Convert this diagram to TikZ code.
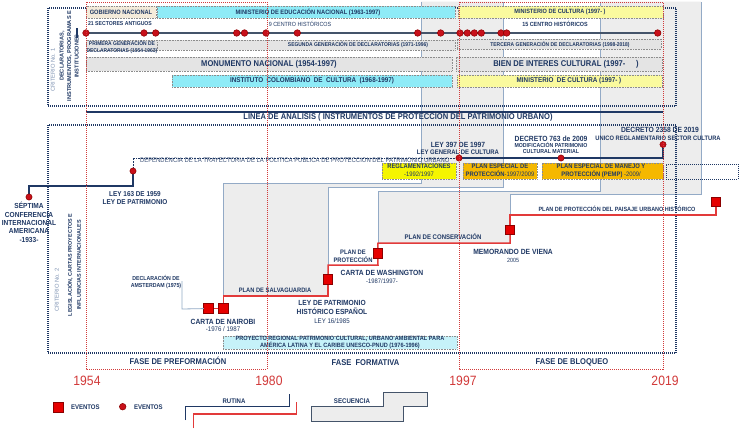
\documentclass[tikz,border=0pt]{standalone}
\usepackage{fontspec}
\setmainfont{Liberation Sans}
\usepackage{graphicx}
\definecolor{navy}{HTML}{1F3864}
\definecolor{stl}{HTML}{93AAC6}
\definecolor{gfill}{HTML}{EDEDED}
\definecolor{rroute}{HTML}{E23A3A}
\definecolor{sqred}{HTML}{E60000}
\definecolor{sqedge}{HTML}{8B0000}
\definecolor{dotred}{HTML}{C8101A}
\definecolor{cyanbox}{HTML}{8EEBF7}
\definecolor{cyanlt}{HTML}{C6F2F9}
\definecolor{ylw}{HTML}{FAFA9E}
\definecolor{ylwb}{HTML}{F5F500}
\definecolor{goldb}{HTML}{F5B800}
\definecolor{beige}{HTML}{F4EBDA}
\definecolor{gbox}{HTML}{E4E4E4}
\definecolor{bxedge}{HTML}{8C8C8C}
\definecolor{critgrey}{HTML}{7F93B3}
\definecolor{yrred}{HTML}{D23A3A}
\definecolor{tline}{HTML}{44546A}
\newcommand{\fs}[2]{\fontsize{#1}{#2}\selectfont}
\newcommand{\nx}[1]{\scalebox{0.9}[1]{#1}}
\newcommand{\nxl}[1]{\scalebox{0.9}[1]{\begin{tabular}{@{}c@{}}#1\end{tabular}}}
\newcommand{\bxn}[6]{\node[bx,fill=#6,minimum width={(#4-#2)*1pt},minimum height={(#5-#3)*1pt},anchor=north west] (#1) at (#2,#3) {};}
\tikzset{
  bx/.style={draw=bxedge,dash pattern=on 0.8pt off 0.8pt,line width=0.6pt},
  critbox/.style={draw=navy,dash pattern=on 1pt off 1pt,line width=1.1pt},
  reddot/.style={draw=yrred,dash pattern=on 1pt off 1pt,line width=0.9pt},
  stline/.style={draw=stl,line width=0.9pt},
  route/.style={draw=rroute,line width=1.5pt},
  tdot/.style={circle,fill=dotred,draw=sqedge,line width=0.5pt,minimum size=6.6pt},
  sq/.style={rectangle,fill=sqred,draw=sqedge,line width=0.7pt,minimum size=9.5pt},
  lb/.style={text=navy}
}
\begin{document}
\begin{tikzpicture}[x=1pt,y=-1pt,every node/.style={inner sep=0pt,outer sep=0pt}]
\useasboundingbox (0,0) rectangle (741,429);
\fill[white] (0,0) rectangle (741,429);

% grey secuencia areas
\fill[gfill] (223.5,296) -- (223.5,183) -- (421,183) -- (421,1.5) -- (503,1.5) -- (503,187) -- (328,187) -- (328,296) -- cycle;
\fill[gfill] (378,243) -- (378,191) -- (600,191) -- (600,1.5) -- (701,1.5) -- (701,194) -- (510,194) -- (510,243) -- cycle;

% route coordinates
\coordinate (r1) at (223.5,296);
\coordinate (r2) at (328,296);
\coordinate (r3) at (328,265);
\coordinate (r4) at (378,265);
\coordinate (r5) at (378,243);
\coordinate (r6) at (510,243);
\coordinate (r7) at (510,215);
\coordinate (r8) at (716,215);

% steel secuencia outlines
\draw[stline] (r1) -- (223.5,183) -- (421,183) -- (421,1.5);
\draw[stline] (r3) -- (328,187) -- (503,187) -- (503,1.5);
\draw[stline] (r5) -- (378,191) -- (600,191) -- (600,1.5);
\draw[stline] (r7) -- (510,194) -- (701,194) -- (701,1.5);

% criterion boxes
\draw[critbox] (48,8) rectangle (676,106);
\draw[critbox] (48,125) rectangle (676,353);

% ---------- top section ----------
\coordinate (tk1) at (77,28); \coordinate (tk2) at (77,38);
\draw[navy,line width=1.5pt] (tk1) -- (tk2);
\foreach \i/\x in {1/86,2/144,3/155.7,4/236.7,5/244.5,6/266,7/297.3,8/417.7,9/440.7,10/460,11/467.3,12/474.3,13/481.3,14/501,15/506.7,16/657.7}
  \coordinate (td\i) at (\x,33);
\draw[tline,line width=1.2pt] (td1) -- (td16);
\foreach \i in {1,...,16} \node[tdot] at (td\i) {};

\bxn{gob}{86}{6}{156}{18}{beige}
\bxn{med}{157}{6}{455}{18}{cyanbox}
\bxn{mcu1}{458}{6}{663}{18}{ylw}
\bxn{pgd}{86}{40}{157}{50}{gbox}
\bxn{sgd}{157}{40}{455}{50}{gbox}
\bxn{tgd}{457}{39}{661}{49}{gbox}
\bxn{mon}{86}{57}{452}{71}{gbox}
\bxn{bic}{456}{57}{662}{71}{gbox}
\bxn{icc}{172}{75}{452}{87}{cyanbox}
\bxn{mcu2}{457}{75}{662}{87}{ylw}

\node[lb,font=\fs{6.3}{7}\bfseries] at (121,12) {\nx{GOBIERNO NACIONAL}};
\node[lb,font=\fs{6.4}{7}\bfseries] at (308,12) {\nx{MINISTERIO DE EDUCACIÓN NACIONAL (1963-1997)}};
\node[lb,font=\fs{6.2}{7}\bfseries] at (560,12) {\nx{MINISTERIO DE CULTURA (1997- )}};
\node[lb,font=\fs{5.7}{7}\bfseries] at (120,24) {\nx{21 SECTORES ANTIGUOS}};
\node[lb,font=\fs{6}{7}] at (300,24) {\nx{9 CENTRO HISTÓRICOS}};
\node[lb,font=\fs{6}{7}\bfseries] at (555,24) {\nx{15 CENTRO HISTÓRICOS}};
\node[lb,font=\fs{5.5}{7}\bfseries] at (122,48) {\nxl{PRIMERA GENERACIÓN DE\\DECLARATORIAS (1954-1963)}};
\node[lb,font=\fs{5.5}{7}\bfseries] at (358,45) {\nx{SEGUNDA GENERACIÓN DE DECLARATORIAS (1971-1996)}};
\node[lb,font=\fs{5.5}{7}\bfseries] at (560,44.5) {\nx{TERCERA GENERACIÓN DE DECLARATORIAS (1998-2018)}};
\node[lb,font=\fs{8.4}{10}\bfseries] at (269,64) {\nx{MONUMENTO NACIONAL (1954-1997)}};
\node[lb,font=\fs{8.4}{10}\bfseries] at (566,64) {\nx{BIEN DE INTERES CULTURAL (1997-\hspace{12pt})}};
\node[lb,font=\fs{7}{8}\bfseries] at (312,81) {\nx{INSTITUTO\ \ COLOMBIANO\ \ DE\ \ CULTURA\ \ (1968-1997)}};
\node[lb,font=\fs{7}{8}\bfseries] at (569,81) {\nx{MINISTERIO\ \ DE CULTURA (1997- )}};

% criterion 1 texts
\node[text=critgrey,font=\fs{5.8}{7},rotate=90] at (53,70) {CRITERIO No. 1};
\node[lb,font=\fs{5.6}{7.5}\bfseries,rotate=90] at (69.5,56) {\begin{tabular}{@{}c@{}}DECLARATORIAS,\\INSTRUMENTOS, PROGRAMAS E\\INSTITUCIONES\end{tabular}};

% linea de analisis
\coordinate (la1) at (86,112); \coordinate (la2) at (663,112);
\draw[navy,line width=1.2pt] (la1) -- (la2);
\node[lb,font=\fs{8.4}{10}\bfseries] at (398,117.5) {\nx{LINEA DE ANALISIS ( INSTRUMENTOS DE PROTECCION DEL PATRIMONIO URBANO)}};

% criterion 2 texts
\node[text=critgrey,font=\fs{5.8}{7},rotate=90] at (57,290) {CRITERIO No. 2};
\node[lb,font=\fs{5.4}{9}\bfseries,rotate=90] at (74.5,265) {\begin{tabular}{@{}c@{}}LEGISLACIÓN, CARTAS PROYECTOS E\\INFLUENCIAS INTERNACIONALES\end{tabular}};

% plan boxes
\bxn{reg}{382}{163}{456}{179}{ylwb}
\bxn{pep}{463}{163}{537}{179}{goldb}
\bxn{pemp}{542}{163}{663}{179}{goldb}
\node[draw=navy,dash pattern=on 1pt off 1pt,line width=1pt,minimum width=72pt,minimum height=15pt,anchor=north west] (fut) at (666,164) {};
\node[lb,font=\fs{6.5}{7.2}] at (419,171) {\nxl{\bfseries REGLAMENTACIONES\\-1992/1997}};
\node[lb,font=\fs{6.5}{7.2}] at (500,171) {\nxl{\bfseries PLAN ESPECIAL DE\\{\bfseries PROTECCIÓN}-1997/2009}};
\node[lb,font=\fs{6.5}{7.5}] at (601,171) {\nxl{\bfseries PLAN ESPECIAL DE MANEJO Y\\{\bfseries PROTECCIÓN (PEMP)} -2009/}};

% ---------- policy trajectory ----------
\coordinate (sep) at (29,197);
\coordinate (l163) at (133,171);
\coordinate (l397) at (459,158);
\coordinate (d763) at (561,158);
\coordinate (d2358) at (663,144.5);
\coordinate (k1) at (29,186); \coordinate (k2) at (133,186);
\draw[navy,line width=1.5pt] (sep) -- (k1) -- (k2) -- (l163);
\node[anchor=west,text=navy!85,font=\fs{6.6}{7}] at (140,160.5) {\nx{DEPENDENCIA DE LA TRAYECTORIA DE LA POLITICA PUBLICA DE PROTECCION DEL PATRIMONIO URBANO}};
\draw[navy,dash pattern=on 0.8pt off 0.8pt,line width=0.9pt] (l163) |- (l397);
\draw[navy,line width=1.8pt] (l397) -| (d2358);
\foreach \n in {sep,l163,l397,d763,d2358} \node[tdot,minimum size=6.2pt] at (\n) {};

\node[lb,font=\fs{7.3}{8.3}\bfseries] at (29,223.5) {\nxl{SÉPTIMA\\CONFERENCIA\\INTERNACIONAL\\AMERICANA\\-1933-}};
\node[lb,font=\fs{7.1}{8}\bfseries] at (135,199) {\nxl{LEY 163 DE 1959\\LEY DE PATRIMONIO}};
\node[lb,font=\fs{7.5}{8}\bfseries] at (458,145) {\nx{LEY 397 DE 1997}};
\node[lb,font=\fs{6.6}{8}\bfseries] at (458,152.3) {\nx{LEY GENERAL DE CULTURA}};
\node[lb,font=\fs{7.5}{8}\bfseries] at (551,139) {\nx{DECRETO 763 de 2009}};
\node[lb,font=\fs{5.8}{6.3}\bfseries] at (551,149.2) {\nxl{MODIFICACIÓN PATRIMONIO\\CULTURAL MATERIAL}};
\node[lb,font=\fs{7.5}{8}\bfseries] at (660,130) {\nx{DECRETO 2358 DE 2019}};
\node[lb,font=\fs{6.4}{8}\bfseries] at (658,138) {\nx{UNICO REGLAMENTARIO SECTOR CULTURA}};

% ---------- route ----------
\node[sq] (n1) at (208.5,308.5) {};
\node[sq] (n2) at (223.5,308.5) {};
\node[sq] (pat) at (328,279.3) {};
\node[sq] (was) at (377.7,253.3) {};
\node[sq] (vie) at (510,230) {};
\node[sq] (pai) at (716,201.7) {};
\draw[route] (n1) -- (n2);
\draw[route] (n2) -- (r1) -- (r2) -- (pat);
\draw[route] (pat) -- (r3) -- (r4) -- (was);
\draw[route] (was) -- (r5) -- (r6) -- (vie);
\draw[route] (vie) -- (r7) -- (r8) -- (pai);
\foreach \x/\y in {208.5/308.5,223.5/308.5,328/279.3,377.7/253.3,510/230,716/201.7}
  \node[sq] at (\x,\y) {};

% amsterdam connector
\coordinate (am1) at (182,281); \coordinate (am2) at (182,309);
\draw[stl,line width=0.8pt] (am1) -- (am2) -- (n1);

% route labels
\node[lb,font=\fs{5.8}{7}\bfseries] at (156,282.5) {\nxl{DECLARACIÓN DE\\AMSTERDAM (1975)}};
\node[lb,font=\fs{7.5}{8}\bfseries] at (223,322) {\nx{CARTA DE NAIROBI}};
\node[lb,font=\fs{6.8}{8}] at (223,329.5) {\nx{-1976 / 1987}};
\node[lb,font=\fs{6.4}{8}\bfseries] at (275,290) {\nx{PLAN DE SALVAGUARDIA}};
\node[lb,font=\fs{7.4}{8.5}\bfseries] at (332,308.2) {\nxl{LEY DE PATRIMONIO\\HISTÓRICO ESPAÑOL}};
\node[lb,font=\fs{6.8}{8}] at (332,321) {\nx{LEY 16/1985}};
\node[lb,font=\fs{6.5}{7}\bfseries] at (353,256.7) {\nxl{PLAN DE\\PROTECCIÓN}};
\node[lb,font=\fs{7.5}{8}\bfseries] at (382,273) {\nx{CARTA DE WASHINGTON}};
\node[lb,font=\fs{6.5}{8}] at (382,281) {\nx{-1987/1997-}};
\node[lb,font=\fs{6.7}{8}\bfseries] at (443,237) {\nx{PLAN DE CONSERVACIÓN}};
\node[lb,font=\fs{7.5}{8}\bfseries] at (513,252) {\nx{MEMORANDO DE VIENA}};
\node[lb,font=\fs{6}{8}] at (513,260) {\nx{2005}};
\node[lb,font=\fs{6.1}{8}\bfseries] at (617,209) {\nx{PLAN DE PROTECCIÓN DEL PAISAJE URBANO HISTÓRICO}};

% proyecto regional
\bxn{proy}{223}{336}{457}{349}{cyanlt}
\node[lb,font=\fs{6.2}{6.6}\bfseries] at (340,342.5) {\nxl{PROYECTO REGIONAL PATRIMONIO CULTURAL, URBANO AMBIENTAL PARA\\AMÉRICA LATINA Y EL CARIBE UNESCO-PNUD (1976-1996)}};

% time frames (red dotted)
\draw[reddot] (86,2) rectangle (267,369);
\draw[reddot] (459,2) rectangle (663,369);

% phases
\node[lb,font=\fs{8.4}{10}\bfseries] at (178,361) {\nx{FASE DE PREFORMACIÓN}};
\node[lb,font=\fs{8.4}{10}\bfseries] at (365.5,362.5) {\nx{FASE\ \ FORMATIVA}};
\node[lb,font=\fs{8.4}{10}\bfseries] at (572,362) {\nx{FASE DE BLOQUEO}};

% years
\node[text=yrred,font=\fs{13.5}{15}] at (87,381) {\nx{1954}};
\node[text=yrred,font=\fs{13.5}{15}] at (269,381) {\nx{1980}};
\node[text=yrred,font=\fs{13.5}{15}] at (463,381) {\nx{1997}};
\node[text=yrred,font=\fs{13.5}{15}] at (665,381) {\nx{2019}};

% legend
\node[sq,minimum size=10pt] (lgsq) at (58,407.5) {};
\node[lb,font=\fs{6.7}{8}\bfseries,anchor=west] at (71,407.5) {\nx{EVENTOS}};
\node[tdot] (lgdot) at (122.7,406.7) {};
\node[lb,font=\fs{6.7}{8}\bfseries,anchor=west] at (134,407.5) {\nx{EVENTOS}};
\node[lb,font=\fs{6.7}{8}\bfseries] at (234,401.5) {\nx{RUTINA}};
\coordinate (ru1) at (185.7,420); \coordinate (ru2) at (185.7,406.7);
\coordinate (ru3) at (289.3,406.7); \coordinate (ru4) at (289.3,394);
\draw[navy,line width=1.2pt] (ru1) -- (ru2) -- (ru3) -- (ru4);
\coordinate (rr1) at (193.3,428); \coordinate (rr2) at (193.3,414);
\coordinate (rr3) at (296.7,414); \coordinate (rr4) at (296.7,401.7);
\draw[rroute,line width=1.3pt] (rr1) -- (rr2) -- (rr3) -- (rr4);
\filldraw[fill=gfill,draw=tline,line width=1pt] (311.7,406.7) -- (383,406.7) -- (383,392.7) -- (427.3,392.7) -- (427.3,406.7) -- (403.3,406.7) -- (403.3,421) -- (311.7,421) -- cycle;
\node[lb,font=\fs{6.8}{8}\bfseries] at (352,401) {\nx{SECUENCIA}};
\end{tikzpicture}
\end{document}
